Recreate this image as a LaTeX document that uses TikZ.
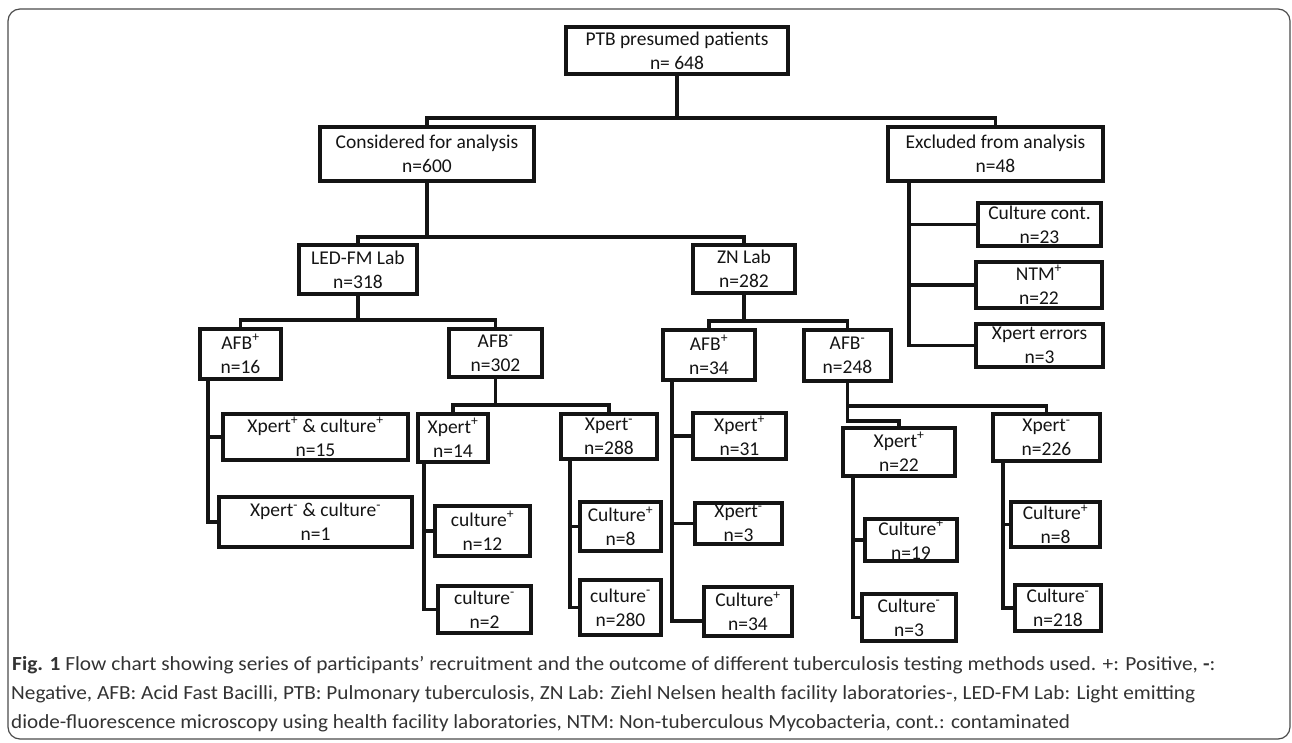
\documentclass[tikz,border=0pt]{standalone}
\usepackage{fontspec}
\usepackage{graphicx}
\setmainfont{Carlito}
\begin{document}
\begin{tikzpicture}[x=1pt,y=-1pt,
  box/.style={draw=black!92, line width=3.2pt, align=center, inner sep=0pt,
    font=\fontsize{19.5}{24}\selectfont, text=black!92},
  conn/.style={line width=3.2pt, draw=black!92},
  capline/.style={anchor=base west, inner sep=0pt, text=black!80,
    font=\fontsize{20}{24}\selectfont}]
\useasboundingbox (0,0) rectangle (1292,743);
\draw[line width=1.2pt, draw=black!70, rounded corners=12pt] (8,9) rectangle (1290,739);

% level 0-1
\node[box, minimum width=222pt, minimum height=47pt] (ptb) at (677,50.5) {PTB presumed patients\\n= 648};
\node[box, minimum width=214pt, minimum height=54pt] (cons) at (427,154) {Considered for analysis\\n=600};
\node[box, minimum width=215pt, minimum height=54pt] (excl) at (995.5,154) {Excluded from analysis\\n=48};
% excluded children
\node[box, minimum width=123pt, minimum height=43pt] (cc) at (1039.5,224.5) {Culture cont.\\n=23};
\node[box, minimum width=126pt, minimum height=46pt] (ntm) at (1039,285) {NTM\textsuperscript{+}\\n=22};
\node[box, minimum width=127pt, minimum height=43pt] (xerr) at (1039.5,345.5) {Xpert errors\\n=3};
% labs
\node[box, minimum width=118pt, minimum height=49pt] (led) at (358,269.5) {LED-FM Lab\\n=318};
\node[box, minimum width=102pt, minimum height=48pt] (zn) at (744,269) {ZN Lab\\n=282};
% LED-FM branch
\node[box, minimum width=81pt, minimum height=50pt] (lafbp) at (240.5,354) {AFB\textsuperscript{+}\\n=16};
\node[box, minimum width=93pt, minimum height=48pt] (lafbm) at (495.5,353) {AFB\textsuperscript{-}\\n=302};
\node[box, minimum width=185pt, minimum height=46pt] (xpcp) at (315.5,437) {Xpert\textsuperscript{+} \& culture\textsuperscript{+}\\n=15};
\node[box, minimum width=193pt, minimum height=50pt] (xmcm) at (315.5,522) {Xpert\textsuperscript{-} \& culture\textsuperscript{-}\\n=1};
\node[box, minimum width=70pt, minimum height=48pt] (lxp) at (453,438) {Xpert\textsuperscript{+}\\n=14};
\node[box, minimum width=96pt, minimum height=45pt] (lxm) at (609,436.5) {Xpert\textsuperscript{-}\\n=288};
\node[box, minimum width=95pt, minimum height=50pt] (lc1) at (482.5,531) {culture\textsuperscript{+}\\n=12};
\node[box, minimum width=93pt, minimum height=47pt] (lc2) at (484.5,609.5) {culture\textsuperscript{-}\\n=2};
\node[box, minimum width=81pt, minimum height=49pt] (lc3) at (620.5,526.5) {Culture\textsuperscript{+}\\n=8};
\node[box, minimum width=81pt, minimum height=55pt] (lc4) at (620.5,607.5) {culture\textsuperscript{-}\\n=280};
% ZN branch
\node[box, minimum width=92pt, minimum height=50pt] (zafbp) at (709,355) {AFB\textsuperscript{+}\\n=34};
\node[box, minimum width=87pt, minimum height=51pt] (zafbm) at (847.5,355.5) {AFB\textsuperscript{-}\\n=248};
\node[box, minimum width=93pt, minimum height=46pt] (zxp31) at (739.5,436) {Xpert\textsuperscript{+}\\n=31};
\node[box, minimum width=87pt, minimum height=41pt] (zxm3) at (738.5,523.5) {Xpert\textsuperscript{-}\\n=3};
\node[box, minimum width=88pt, minimum height=49pt] (zc34) at (748,611.5) {Culture\textsuperscript{+}\\n=34};
\node[box, minimum width=112pt, minimum height=48pt] (zxp22) at (899,452) {Xpert\textsuperscript{+}\\n=22};
\node[box, minimum width=107pt, minimum height=47pt] (zxm226) at (1046.5,437.5) {Xpert\textsuperscript{-}\\n=226};
\node[box, minimum width=92pt, minimum height=42pt] (zc19) at (911,540) {Culture\textsuperscript{+}\\n=19};
\node[box, minimum width=94pt, minimum height=47pt] (zc3) at (909,617.5) {Culture\textsuperscript{-}\\n=3};
\node[box, minimum width=89pt, minimum height=45pt] (zc8) at (1055.5,524.5) {Culture\textsuperscript{+}\\n=8};
\node[box, minimum width=86pt, minimum height=46pt] (zc218) at (1058,608) {Culture\textsuperscript{-}\\n=218};

% junction coordinates
\coordinate (j1) at (677,118);
\coordinate (j2) at (427,237);
\coordinate (j3) at (358,320);
\coordinate (j4) at (744,321);
\coordinate (j5) at (495.5,405);
\coordinate (j6) at (847.5,421);
\coordinate (j7) at (847.5,406);
\coordinate (cx) at (909,0);
\coordinate (cA) at (208,0);
\coordinate (cB) at (424,0);
\coordinate (cC) at (570,0);
\coordinate (cD) at (672,0);
\coordinate (cE) at (853,0);
\coordinate (cF) at (1003,0);

% connectors
\draw[conn] (ptb.south) -- (j1);
\draw[conn] (cons.north) |- (j1) -| (excl.north);
\draw[conn] (cons.south) -- (j2);
\draw[conn] (led.north) |- (j2) -| (zn.north);
\draw[conn] (excl.south -| cx) |- (xerr.west);
\draw[conn] (excl.south -| cx) |- (ntm.west);
\draw[conn] (excl.south -| cx) |- (cc.west);
\draw[conn] (led.south) -- (j3);
\draw[conn] (lafbp.north) |- (j3) -| (lafbm.north);
\draw[conn] (zn.south) -- (j4);
\draw[conn] (zafbp.north) |- (j4) -| (zafbm.north);
\draw[conn] (lafbp.south -| cA) |- (xmcm.west);
\draw[conn] (lafbp.south -| cA) |- (xpcp.west);
\draw[conn] (lafbm.south) -- (j5);
\draw[conn] (lxp.north) |- (j5) -| (lxm.north);
\draw[conn] (lxp.south -| cB) |- (lc2.west);
\draw[conn] (lxp.south -| cB) |- (lc1.west);
\draw[conn] (lxm.south -| cC) |- (lc4.west);
\draw[conn] (lxm.south -| cC) |- (lc3.west);
\draw[conn] (zafbp.south -| cD) |- ([yshift=-9.5pt]zc34.west);
\draw[conn] (zafbp.south -| cD) |- (zxm3.west);
\draw[conn] (zafbp.south -| cD) |- (zxp31.west);
\draw[conn] (zafbm.south) -- (j6) -| (zxp22.north);
\draw[conn] (j7) -| (zxm226.north);
\draw[conn] (zxp22.south -| cE) |- (zc3.west);
\draw[conn] (zxp22.south -| cE) |- (zc19.west);
\draw[conn] (zxm226.south -| cF) |- (zc218.west);
\draw[conn] (zxm226.south -| cF) |- (zc8.west);

% caption
\node[capline] (cap1) at (12,670) {\resizebox{1203pt}{\height}{\textbf{Fig. 1} Flow chart showing series of participants’ recruitment and the outcome of different tuberculosis testing methods used. +: Positive, \textbf{-}:}};
\node[capline] (cap2) at (11,699) {\resizebox{1184pt}{\height}{Negative, AFB: Acid Fast Bacilli, PTB: Pulmonary tuberculosis, ZN Lab: Ziehl Nelsen health facility laboratories-, LED-FM Lab: Light emitting}};
\node[capline] (cap3) at (11,728) {\resizebox{1059pt}{\height}{diode-fluorescence microscopy using health facility laboratories, NTM: Non-tuberculous Mycobacteria, cont.: contaminated}};
\end{tikzpicture}
\end{document}
